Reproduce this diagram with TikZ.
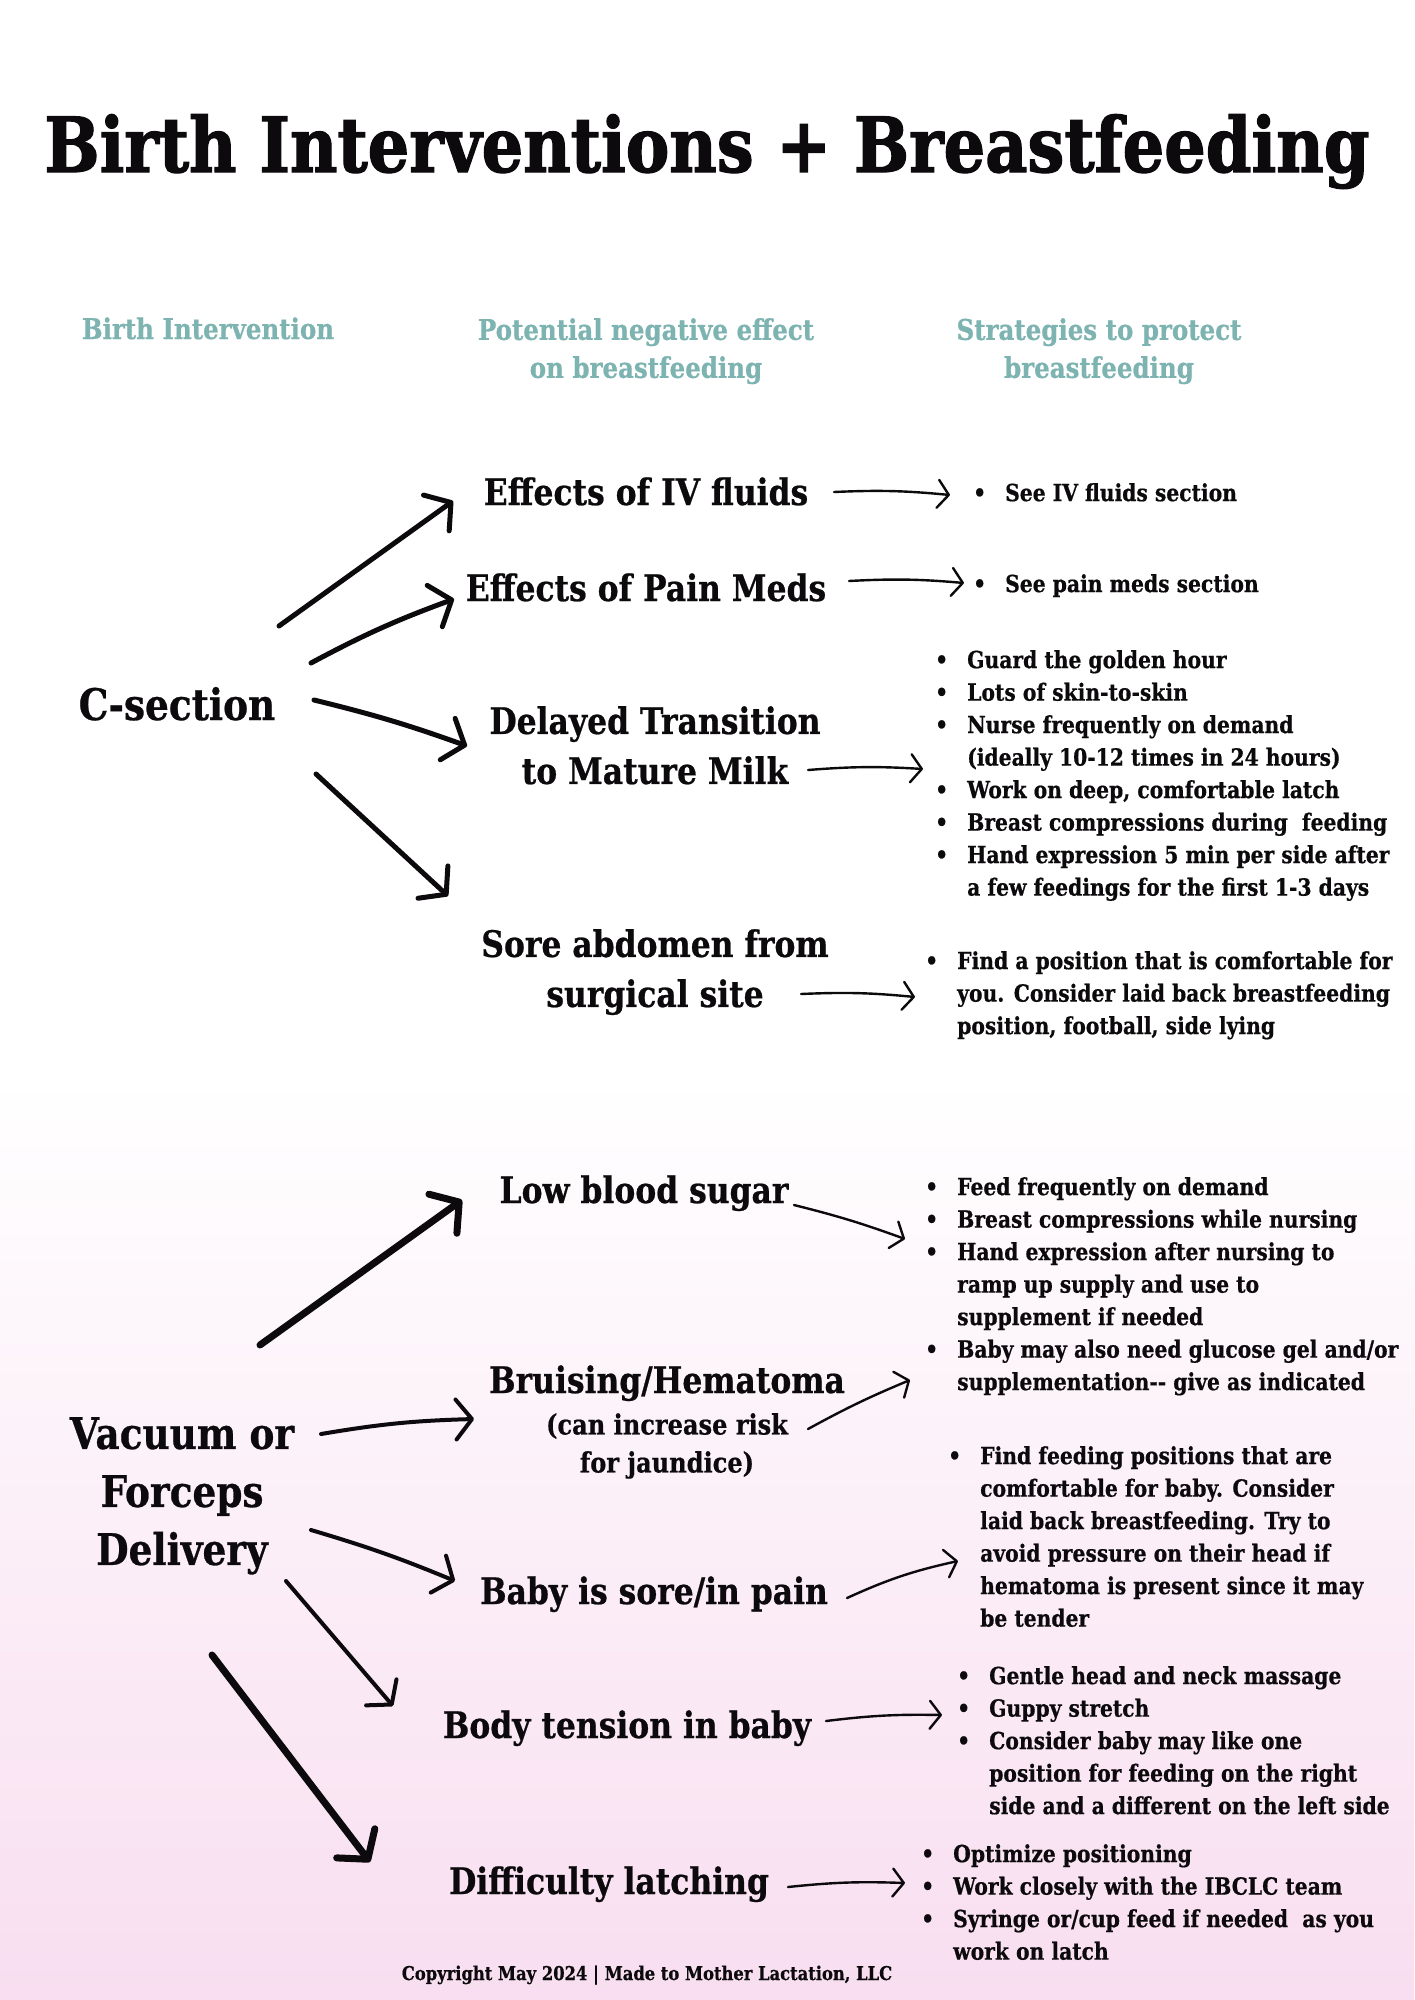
\documentclass[tikz,border=0pt]{standalone}
\usepackage{fontspec}
\setmainfont{DejaVu Serif}[FakeStretch=0.86, BoldFeatures={FakeBold=0.6}]
\newfontfamily\titlefont{DejaVu Serif}[FakeStretch=0.86, BoldFeatures={FakeBold=1.6}]
\usetikzlibrary{arrows.meta}
\definecolor{hdteal}{RGB}{125,180,178}
\definecolor{pinkbg}{RGB}{248,222,240}
\definecolor{ink}{RGB}{12,10,12}
\tikzset{
  ttl/.style={font=\titlefont\fontsize{76}{84}\selectfont\bfseries, text=ink, inner sep=0pt, anchor=base},
  hdr/.style={font=\fontsize{28.5}{38}\selectfont\bfseries, text=hdteal, inner sep=0pt, align=center},
  midlbl/.style={font=\fontsize{36.5}{50}\selectfont\bfseries, text=ink, inner sep=0pt, align=center},
  leftlbl/.style={font=\fontsize{43.5}{58}\selectfont\bfseries, text=ink, inner sep=0pt, align=center},
  notelbl/.style={font=\fontsize{28}{38}\selectfont\bfseries, text=ink, inner sep=0pt, align=center},
  blist/.style={font=\fontsize{23.6}{32.5}\selectfont\bfseries, text=ink, inner sep=0pt, align=left, anchor=north west},
  copy/.style={font=\fontsize{19}{22}\selectfont\bfseries, text=ink, inner sep=0pt, anchor=base},
  thickarr/.style={draw=ink, line width=5pt, line cap=round, -{Straight Barb[length=18pt,width=44pt,line cap=round,line join=round]}},
  heavyarr/.style={draw=ink, line width=7pt, line cap=round, -{Straight Barb[length=20pt,width=48pt,line cap=round,line join=round]}},
  medarr/.style={draw=ink, line width=4pt, line cap=round, -{Straight Barb[length=16pt,width=40pt,line cap=round,line join=round]}},
  thinarr/.style={draw=ink, line width=2.4pt, line cap=round, -{Straight Barb[length=11pt,width=28pt,line cap=round,line join=round]}},
}
\newcommand{\bul}{\makebox[32pt][l]{•}}
\newcommand{\ind}{\hspace*{32pt}}
\begin{document}
\begin{tikzpicture}[x=1pt,y=-1pt]
\useasboundingbox (0,0) rectangle (1414,2000);
\fill[white] (0,0) rectangle (1414,2000);
\shade[top color=white, bottom color=pinkbg] (0,1080) rectangle (1414,2000);

% title and headers
\node[ttl] (title) at (707,172) {Birth Interventions + Breastfeeding};
\node[hdr, anchor=base] (h1) at (208,339) {Birth Intervention};
\node[hdr, anchor=north] (h2) at (646,318) {Potential negative effect\\on breastfeeding};
\node[hdr, anchor=north] (h3) at (1099,318) {Strategies to protect\\breastfeeding};

% C-section part
\node[leftlbl, anchor=base] (csec) at (177,720) {C-section};
\node[midlbl, anchor=base] (iv) at (646,505) {Effects of IV fluids};
\node[midlbl, anchor=base] (pain) at (646,601) {Effects of Pain Meds};
\node[midlbl, anchor=north] (delay) at (655,706) {Delayed Transition\\to Mature Milk};
\node[midlbl, anchor=north] (sore) at (655,929) {Sore abdomen from\\surgical site};

\node[blist] (siv) at (973,483) {\bul See IV fluids section};
\node[blist] (spain) at (973,574) {\bul See pain meds section};
\node[blist] (sdelay) at (935,650) {\bul Guard the golden hour\\
\bul Lots of skin-to-skin\\
\bul Nurse frequently on demand\\
\ind (ideally 10-12 times in 24 hours)\\
\bul Work on deep, comfortable latch\\
\bul Breast compressions during \ feeding\\
\bul Hand expression 5 min per side after\\
\ind a few feedings for the first 1-3 days};
\node[blist] (ssore) at (925,951) {\bul Find a position that is comfortable for\\
\ind you. Consider laid back breastfeeding\\
\ind position, football, side lying};

% C-section arrows
\coordinate (c1s) at (279,626); \coordinate (c1e) at (453,501);
\coordinate (c2s) at (311,663); \coordinate (c2e) at (454,599);
\coordinate (c3s) at (314,700); \coordinate (c3e) at (467,746);
\coordinate (c4s) at (316,774); \coordinate (c4e) at (448,896);
\draw[thickarr] (c1s) -- (c1e);
\draw[thickarr] (c2s) to[bend left=4] (c2e);
\draw[thickarr] (c3s) to[bend left=3] (c3e);
\draw[thickarr] (c4s) -- (c4e);

\coordinate (r1s) at (834,492); \coordinate (r1e) at (950,495);
\coordinate (r2s) at (849,581); \coordinate (r2e) at (964,583);
\coordinate (r3s) at (808,770); \coordinate (r3e) at (923,769);
\coordinate (r4s) at (801,994); \coordinate (r4e) at (915,997);
\draw[thinarr] (r1s) to[bend left=4] (r1e);
\draw[thinarr] (r2s) to[bend left=4] (r2e);
\draw[thinarr] (r3s) to[bend left=4] (r3e);
\draw[thinarr] (r4s) to[bend left=4] (r4e);

% Vacuum part
\node[leftlbl, anchor=north] (vac) at (182,1417) {Vacuum or\\Forceps\\Delivery};
\node[midlbl, anchor=base] (lbs) at (644,1203) {Low blood sugar};
\node[midlbl, anchor=base] (bruise) at (667,1393) {Bruising/Hematoma};
\node[notelbl, anchor=north] (bnote) at (667,1413) {(can increase risk\\for jaundice)};
\node[midlbl, anchor=base] (bsore) at (654,1604) {Baby is sore/in pain};
\node[midlbl, anchor=base] (tens) at (627,1738) {Body tension in baby};
\node[midlbl, anchor=base] (latch) at (609,1894) {Difficulty latching};

\node[blist] (slbs) at (925,1177) {\bul Feed frequently on demand\\
\bul Breast compressions while nursing\\
\bul Hand expression after nursing to\\
\ind ramp up supply and use to\\
\ind supplement if needed\\
\bul Baby may also need glucose gel and/or\\
\ind supplementation-{}- give as indicated};
\node[blist] (sbsore) at (948,1446) {\bul Find feeding positions that are\\
\ind comfortable for baby. Consider\\
\ind laid back breastfeeding. Try to\\
\ind avoid pressure on their head if\\
\ind hematoma is present since it may\\
\ind be tender};
\node[blist] (stens) at (957,1666) {\bul Gentle head and neck massage\\
\bul Guppy stretch\\
\bul Consider baby may like one\\
\ind position for feeding on the right\\
\ind side and a different on the left side};
\node[blist] (slatch) at (921,1844) {\bul Optimize positioning\\
\bul Work closely with the IBCLC team\\
\bul Syringe or/cup feed if needed \ as you\\
\ind work on latch};

\coordinate (v1s) at (260,1345); \coordinate (v1e) at (462,1200);
\coordinate (v2s) at (321,1434); \coordinate (v2e) at (474,1419);
\coordinate (v3s) at (311,1530); \coordinate (v3e) at (455,1581);
\coordinate (v4s) at (286,1581); \coordinate (v4e) at (393,1706);
\coordinate (v5s) at (212,1655); \coordinate (v5e) at (370,1862);
\draw[heavyarr] (v1s) -- (v1e);
\draw[medarr] (v2s) to[bend left=4] (v2e);
\draw[medarr] (v3s) to[bend left=3] (v3e);
\draw[medarr] (v4s) -- (v4e);
\draw[heavyarr] (v5s) -- (v5e);

\coordinate (w1s) at (794,1205); \coordinate (w1e) at (905,1239);
\coordinate (w2s) at (808,1429); \coordinate (w2e) at (910,1380);
\coordinate (w3s) at (847,1598); \coordinate (w3e) at (958,1561);
\coordinate (w4s) at (826,1721); \coordinate (w4e) at (942,1715);
\coordinate (w5s) at (788,1887); \coordinate (w5e) at (905,1883);
\draw[thinarr] (w1s) to[bend left=3] (w1e);
\draw[thinarr] (w2s) to[bend left=3] (w2e);
\draw[thinarr] (w3s) to[bend left=6] (w3e);
\draw[thinarr] (w4s) to[bend left=4] (w4e);
\draw[thinarr] (w5s) to[bend left=4] (w5e);

\node[copy] (cpr) at (647,1980) {Copyright May 2024 | Made to Mother Lactation, LLC};
\end{tikzpicture}
\end{document}
